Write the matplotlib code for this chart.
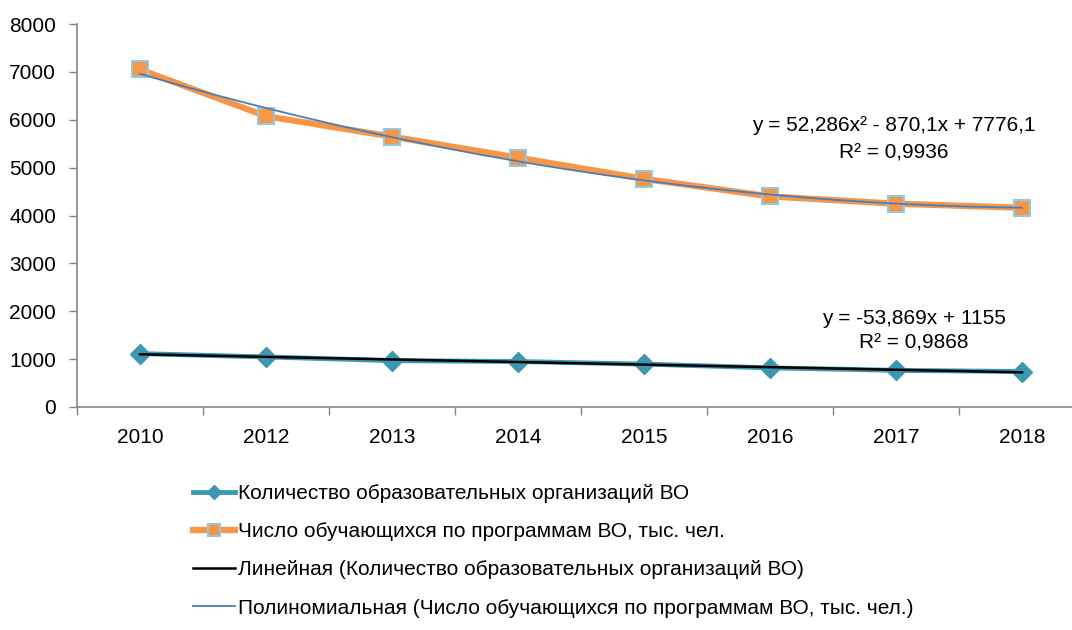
import matplotlib
matplotlib.use("Agg")
import matplotlib.pyplot as plt
import numpy as np

plt.rcParams['font.family'] = ['Liberation Sans', 'DejaVu Sans']

# Data
years = ["2010", "2012", "2013", "2014", "2015", "2016", "2017", "2018"]
orgs = [1115, 1046, 969, 950, 896, 818, 766, 741]
students = [7050, 6075, 5647, 5209, 4766, 4399, 4246, 4162]

lab_orgs = "Количество образовательных организаций ВО"
lab_stud = "Число обучающихся по программам ВО, тыс. чел."
lab_lin = "Линейная (Количество образовательных организаций ВО)"
lab_poly = "Полиномиальная (Число обучающихся по программам ВО, тыс. чел.)"

fig = plt.figure(figsize=(10.72, 6.30), dpi=100)
ax = fig.add_axes([77/1072, 1-407/630, 1008/1072, 383/630])

x = np.arange(len(years))

# Series
ax.plot(x, orgs, color="#3C98B0", lw=3.5, marker="D", ms=10,
        mec="#3C98B0", mfc="#3C98B0", label=lab_orgs, zorder=3)
ax.plot(x, students, color="#F79646", lw=4.5, marker="s", ms=12,
        mec="#92C9DC", mew=1.5, mfc="#F79646", label=lab_stud, zorder=3)

# Trend lines (Excel uses x = 1..n)
xn = x + 1
lin = np.polyfit(xn, orgs, 1)
poly = np.polyfit(xn, students, 2)
xs = np.linspace(1, len(years), 200)
ax.plot(xs - 1, np.polyval(lin, xs), color="black", lw=1.8, label=lab_lin, zorder=4)
ax.plot(xs - 1, np.polyval(poly, xs), color="#4A7EBB", lw=1.3, label=lab_poly, zorder=4)

# Equation labels
ax.text(5.98, 5870, "y = 52,286x² - 870,1x + 7776,1", ha="center", va="center", fontsize=15)
ax.text(5.98, 5310, "R² = 0,9936", ha="center", va="center", fontsize=15)
ax.text(6.14, 1840, "y = -53,869x + 1155", ha="center", va="center", fontsize=15)
ax.text(6.14, 1340, "R² = 0,9868", ha="center", va="center", fontsize=15)

# Axes styling
ax.set_xlim(-0.5, len(years) - 0.5)
ax.set_ylim(0, 8000)
ax.set_yticks(np.arange(0, 8001, 1000))
ax.set_xticks(x)
ax.set_xticklabels(years)
ax.set_xticks(np.arange(-0.5, len(years), 1), minor=True)
ax.tick_params(axis="x", which="major", length=0, pad=15, labelsize=15)
ax.tick_params(axis="x", which="minor", length=6, color="#868686", width=1)
ax.tick_params(axis="y", length=6, color="#868686", width=1, labelsize=15, pad=9)
for s in ["top", "right"]:
    ax.spines[s].set_visible(False)
for s in ["left", "bottom"]:
    ax.spines[s].set_color("#868686")
    ax.spines[s].set_linewidth(1.2)

fig.legend(loc="upper left", bbox_to_anchor=(193/1072, 1-484/630), frameon=False,
           fontsize=15, handlelength=2.0, handletextpad=0.15, labelspacing=0.92,
           markerscale=0.7, borderaxespad=0, borderpad=0)

fig.savefig("out.png", dpi=100)
